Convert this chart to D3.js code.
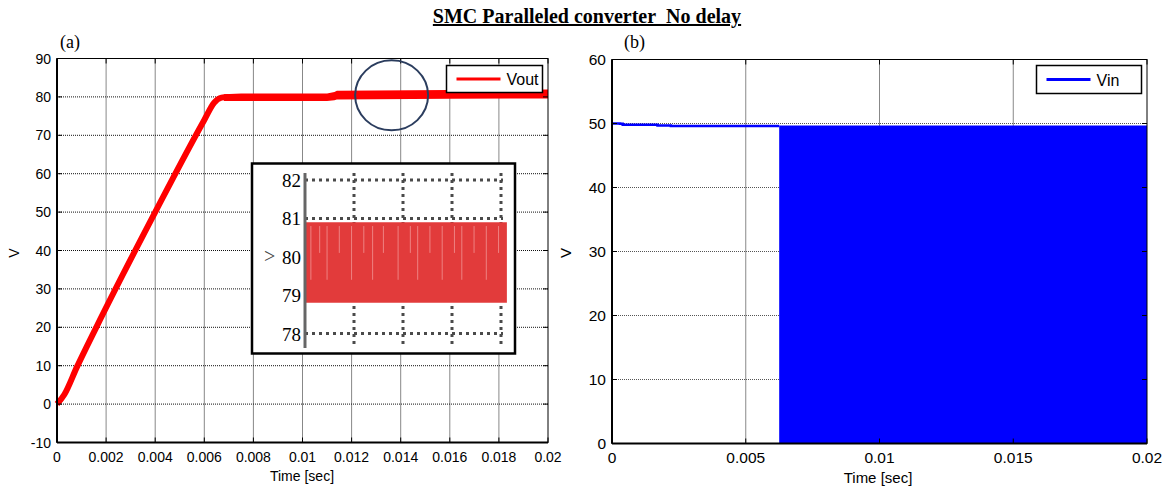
<!DOCTYPE html>
<html>
<head>
<meta charset="utf-8">
<script src="https://cdn.jsdelivr.net/npm/d3@7"></script>
<style>
  body { margin: 0; background: #fff; }
  svg text { font-family: "Liberation Sans", Arial, sans-serif; }
  .serif { font-family: "Liberation Serif", "Times New Roman", serif !important; }
</style>
</head>
<body>
<svg id="chart" width="1172" height="488"></svg>
<script>
//
// Data
//

// (a) output voltage: rising ramp, then a thick ripple band around 80 V
var voutT = [0, 0.0003, 0.0008, 0.0016, 0.004, 0.006, 0.0064, 0.0067, 0.007]
var voutV = [0, 2.5, 9.5, 20, 50, 74, 78.5, 79.8, 80]
var bandT = [0.0068, 0.0075, 0.011, 0.0113, 0.0114, 0.016, 0.02]
var bandLo = [78.9, 78.9, 78.9, 79.1, 79.3, 79.5, 79.6]
var bandHi = [80.7, 80.9, 80.9, 81.3, 81.6, 81.8, 81.9]
var xTicksA = [0, 0.002, 0.004, 0.006, 0.008, 0.01, 0.012, 0.014, 0.016, 0.018, 0.02]
var yTicksA = [-10, 0, 10, 20, 30, 40, 50, 60, 70, 80, 90]

// zoomed inset of the ripple
var insetX = [0, 4.12]
var insetLo = [78.8, 78.8]
var insetHi = [80.9, 80.9]
var insetStreaks = [0.12, 0.3, 0.45, 0.7, 0.95, 1.2, 1.38, 1.6, 1.9, 2.15, 2.3, 2.55, 2.8, 3.05, 3.2, 3.45, 3.7, 3.95]
var insetYTicks = [78, 79, 80, 81, 82]
var insetXTicks = [1, 2, 3, 4]

// (b) input voltage: steady near 50 V, then switching 0..~49.7 V
var vinT = [0, 0.0003, 0.0004, 0.0017, 0.0022, 0.00625]
var vinV = [50, 49.95, 49.8, 49.7, 49.6, 49.6]
var switchT = [0.00625, 0.02]
var switchHi = [49.7, 49.7]
var switchLo = [0, 0]
var xTicksB = [0, 0.005, 0.01, 0.015, 0.02]
var yTicksB = [0, 10, 20, 30, 40, 50, 60]

// annotation circle in (a)
var mark = { t: 0.01363, v: 80.4 }

//
// Drawing
//

var svg = d3.select('#chart')
var fmt = function(d) { return d === 0 ? '0' : String(+d.toFixed(4)) }

svg.append('text').attr('class', 'serif')
  .attr('x', 587).attr('y', 23).attr('text-anchor', 'middle')
  .attr('font-size', 20).attr('font-weight', 'bold')
  .attr('text-decoration', 'underline')
  .text('SMC Paralleled converter\u00a0 No delay')

function frame(g, x, y, xt, yt, fs) {
  var x0 = x.range()[0], x1 = x.range()[1]
  var y0 = y.range()[0], y1 = y.range()[1]
  g.append('rect').attr('x', x0).attr('y', y1).attr('width', x1 - x0).attr('height', y0 - y1)
    .attr('fill', 'none').attr('stroke', '#000').attr('stroke-width', 1)
  // ticks on all four sides, pointing in
  xt.forEach(function(d) {
    g.append('line').attr('x1', x(d)).attr('x2', x(d)).attr('y1', y0).attr('y2', y0 - 5).attr('stroke', '#000')
    g.append('line').attr('x1', x(d)).attr('x2', x(d)).attr('y1', y1).attr('y2', y1 + 5).attr('stroke', '#000')
    g.append('text').attr('x', x(d)).attr('y', y0 + 19).attr('text-anchor', 'middle')
      .attr('font-size', fs).text(fmt(d))
  })
  yt.forEach(function(d) {
    g.append('line').attr('x1', x0).attr('x2', x0 + 5).attr('y1', y(d)).attr('y2', y(d)).attr('stroke', '#000')
    g.append('line').attr('x1', x1).attr('x2', x1 - 5).attr('y1', y(d)).attr('y2', y(d)).attr('stroke', '#000')
    g.append('text').attr('x', x0 - 6).attr('y', y(d) + fs * 0.36).attr('text-anchor', 'end')
      .attr('font-size', fs).text(d)
  })
  g.append('line').attr('x1', x0).attr('x2', x0).attr('y1', y0).attr('y2', y1).attr('stroke', '#000').attr('stroke-width', 2)
  g.append('line').attr('x1', x0).attr('x2', x1).attr('y1', y0).attr('y2', y0).attr('stroke', '#000').attr('stroke-width', 2)
}

function grid(g, x, y, xt, yt, xcolor, ycolor) {
  xt.forEach(function(d) {
    g.append('line').attr('x1', x(d)).attr('x2', x(d)).attr('y1', y.range()[0]).attr('y2', y.range()[1])
      .attr('stroke', xcolor).attr('stroke-dasharray', '1,1')
  })
  yt.forEach(function(d) {
    g.append('line').attr('x1', x.range()[0]).attr('x2', x.range()[1]).attr('y1', y(d)).attr('y2', y(d))
      .attr('stroke', ycolor).attr('stroke-dasharray', '1,1')
  })
}

function legend(g, x0, y0, w, h, color, label) {
  g.append('rect').attr('x', x0).attr('y', y0).attr('width', w).attr('height', h)
    .attr('fill', '#fff').attr('stroke', '#000').attr('stroke-width', 1.5)
  g.append('line').attr('x1', x0 + 10).attr('x2', x0 + 54).attr('y1', y0 + h / 2).attr('y2', y0 + h / 2)
    .attr('stroke', color).attr('stroke-width', 3)
  g.append('text').attr('x', x0 + 60).attr('y', y0 + h / 2 + 6).attr('font-size', 16).text(label)
}

// ---- panel (a)
var xa = d3.scaleLinear().domain([0, 0.02]).range([57, 548])
var ya = d3.scaleLinear().domain([-10, 90]).range([442.5, 58.5])
var ga = svg.append('g')

grid(ga, xa, ya, xTicksA.slice(1, -1), yTicksA.slice(1, -1), '#111', '#111')

ga.append('path')
  .datum(bandT.map(function(t, i) { return [t, bandLo[i], bandHi[i]] }))
  .attr('fill', '#ff0000')
  .attr('d', d3.area().x(function(d) { return xa(d[0]) }).y0(function(d) { return ya(d[1]) }).y1(function(d) { return ya(d[2]) }))

ga.append('path')
  .datum(voutT.map(function(t, i) { return [t, voutV[i]] }))
  .attr('fill', 'none').attr('stroke', '#ff0000').attr('stroke-width', 6).attr('stroke-linejoin', 'round')
  .attr('d', d3.line().curve(d3.curveMonotoneX).x(function(d) { return xa(d[0]) }).y(function(d) { return ya(d[1]) }))

frame(ga, xa, ya, xTicksA, yTicksA, 14)

ga.append('text').attr('transform', 'translate(19,253) rotate(-90)').attr('text-anchor', 'middle')
  .attr('font-size', 14).text('V')
ga.append('text').attr('x', 302).attr('y', 481).attr('text-anchor', 'middle')
  .attr('font-size', 14).text('Time [sec]')
ga.append('text').attr('class', 'serif').attr('x', 60).attr('y', 48).attr('font-size', 18).text('(a)')

legend(ga, 446.5, 65.5, 96, 27, '#ff0000', 'Vout')

ga.append('ellipse').attr('cx', xa(mark.t)).attr('cy', ya(mark.v)).attr('rx', 36.5).attr('ry', 35)
  .attr('fill', 'none').attr('stroke', '#2b3d5e').attr('stroke-width', 2)

// inset
var gi = svg.append('g')
gi.append('rect').attr('x', 252).attr('y', 163.5).attr('width', 263).attr('height', 190)
  .attr('fill', '#fff').attr('stroke', '#000').attr('stroke-width', 2.5)
var xi = d3.scaleLinear().domain([0, 4]).range([305, 501])
var yi = d3.scaleLinear().domain([78, 82]).range([333.5, 180])

insetYTicks.forEach(function(d) {
  gi.append('line').attr('x1', 305).attr('x2', 503).attr('y1', yi(d)).attr('y2', yi(d))
    .attr('stroke', '#4a4a4a').attr('stroke-width', 3).attr('stroke-dasharray', '3,4')
})
insetXTicks.forEach(function(d) {
  gi.append('line').attr('x1', xi(d)).attr('x2', xi(d)).attr('y1', 173).attr('y2', 348)
    .attr('stroke', '#4a4a4a').attr('stroke-width', 3).attr('stroke-dasharray', '3,4')
})
gi.append('path')
  .datum(insetX.map(function(t, i) { return [t, insetLo[i], insetHi[i]] }))
  .attr('fill', '#e23b3b')
  .attr('d', d3.area().x(function(d) { return xi(d[0]) }).y0(function(d) { return yi(d[1]) }).y1(function(d) { return yi(d[2]) }))
insetStreaks.forEach(function(d, i) {
  gi.append('line').attr('x1', xi(d)).attr('x2', xi(d))
    .attr('y1', yi(80.8)).attr('y2', yi(i % 2 ? 80.1 : 79.4))
    .attr('stroke', '#f4a0a0').attr('stroke-width', 1).attr('opacity', 0.7)
})
gi.append('line').attr('x1', 305).attr('x2', 305).attr('y1', 173).attr('y2', 348)
  .attr('stroke', '#666').attr('stroke-width', 3)
insetYTicks.forEach(function(d) {
  gi.append('text').attr('class', 'serif').attr('x', 301).attr('y', yi(d) + 7).attr('text-anchor', 'end')
    .attr('font-size', 19).text(d)
})
gi.append('text').attr('class', 'serif').attr('x', 264).attr('y', yi(80) + 6).attr('font-size', 20)
  .attr('fill', '#444').text('>')

// ---- panel (b)
var xb = d3.scaleLinear().domain([0, 0.02]).range([612, 1147])
var yb = d3.scaleLinear().domain([0, 60]).range([443.5, 59.5])
var gb = svg.append('g')

grid(gb, xb, yb, xTicksB.slice(1, -1), yTicksB.slice(1, -1), '#111', '#555')

gb.append('path')
  .datum(switchT.map(function(t, i) { return [t, switchLo[i], switchHi[i]] }))
  .attr('fill', '#0000ff')
  .attr('d', d3.area().x(function(d) { return xb(d[0]) }).y0(function(d) { return yb(d[1]) }).y1(function(d) { return yb(d[2]) }))
gb.append('path')
  .datum(vinT.map(function(t, i) { return [t, vinV[i]] }))
  .attr('fill', 'none').attr('stroke', '#0000ff').attr('stroke-width', 2.5)
  .attr('d', d3.line().curve(d3.curveStepAfter).x(function(d) { return xb(d[0]) }).y(function(d) { return yb(d[1]) }))

frame(gb, xb, yb, xTicksB, yTicksB, 15.5)

gb.append('text').attr('transform', 'translate(571,253) rotate(-90)').attr('text-anchor', 'middle')
  .attr('font-size', 15).text('V')
gb.append('text').attr('x', 878).attr('y', 483).attr('text-anchor', 'middle')
  .attr('font-size', 15).text('Time [sec]')
gb.append('text').attr('class', 'serif').attr('x', 624).attr('y', 48).attr('font-size', 18).text('(b)')

legend(gb, 1036.5, 65.5, 105, 28, '#0000ff', 'Vin')
</script>
</body>
</html>
